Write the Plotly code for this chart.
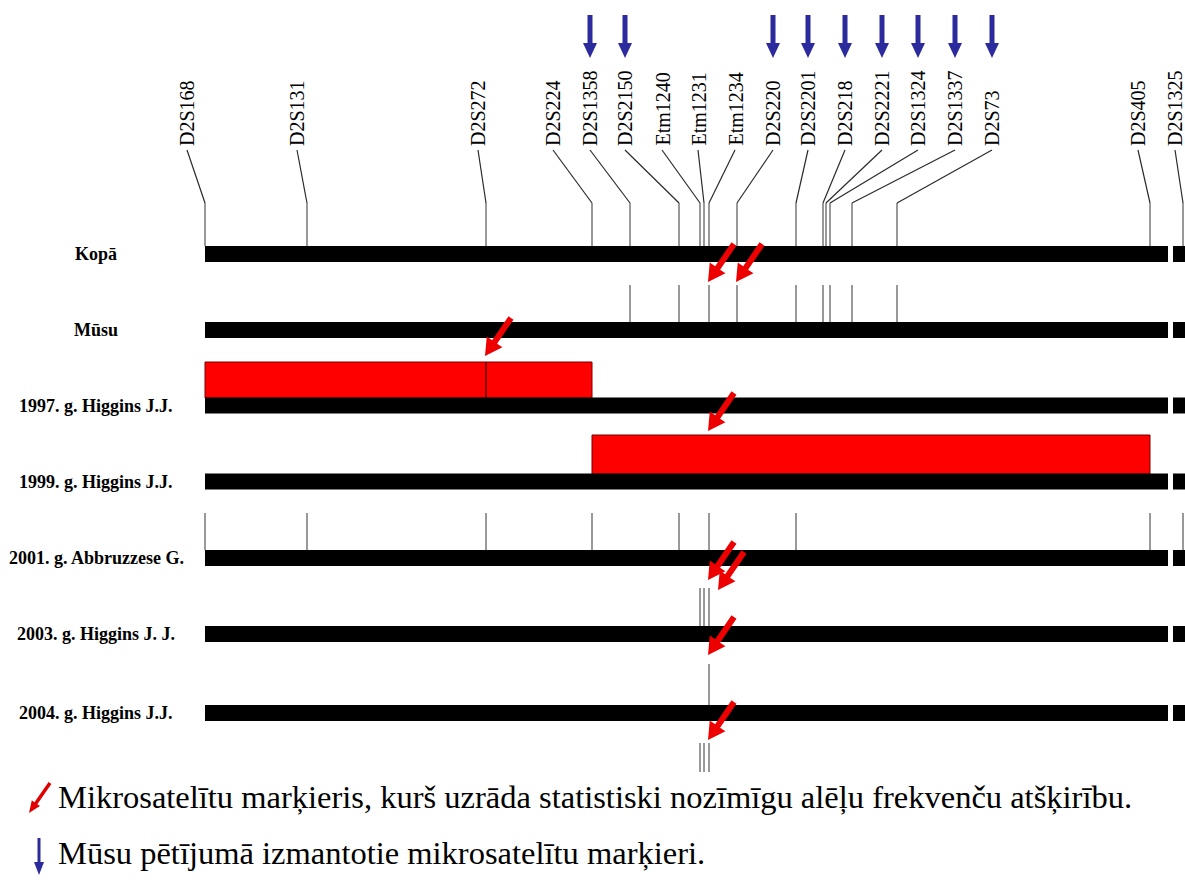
import math
import plotly.graph_objects as go

# ---------------- data ----------------
marker_names = ["D2S168", "D2S131", "D2S272", "D2S224", "D2S1358", "D2S2150",
                "Etm1240", "Etm1231", "Etm1234", "D2S220", "D2S2201", "D2S218",
                "D2S2221", "D2S1324", "D2S1337", "D2S73", "D2S405", "D2S1325"]
# position of each marker on the chromosome map
marker_pos = [205, 307, 486, 592, 630, 679, 700, 704, 709, 737, 796, 823,
              826, 830, 852, 897, 1150, 1183]
# position of each marker name label above the map
label_pos = [187, 297, 478, 553, 590, 625, 662, 698, 735, 773, 808, 845,
             882, 918, 955, 992, 1138, 1175]
# markers used in our study (blue arrows)
our_markers = ["D2S1358", "D2S2150", "D2S220", "D2S2201", "D2S218",
               "D2S2221", "D2S1324", "D2S1337", "D2S73"]

row_names = ["Kopā", "Mūsu", "1997. g. Higgins J.J.", "1999. g. Higgins J.J.",
             "2001. g. Abbruzzese G.", "2003. g. Higgins J. J.", "2004. g. Higgins J.J."]

# markers shown for each study
kopa_markers = marker_names
musu_markers = ["D2S1358", "D2S2150", "Etm1234", "D2S220", "D2S2201",
                "D2S218", "D2S1324", "D2S1337", "D2S73"]
abbr2001_markers = ["D2S168", "D2S131", "D2S272", "D2S224", "D2S2150",
                    "Etm1234", "D2S2201", "D2S405", "D2S1325"]
higgins2003_markers = ["Etm1240", "Etm1231", "Etm1234"]
higgins2004_markers = ["Etm1234"]

# candidate regions (start marker, end marker)
region_1997 = ("D2S168", "D2S224")
region_1997_split = "D2S272"
region_1999 = ("D2S224", "D2S405")

# markers with significant allele-frequency difference (row, marker)
significant = [("Kopā", "Etm1234"), ("Kopā", "D2S220"),
               ("1997. g. Higgins J.J.", "D2S272"),
               ("1999. g. Higgins J.J.", "Etm1234"),
               ("2001. g. Abbruzzese G.", "Etm1234"),
               ("2001. g. Abbruzzese G.", "Etm1234"),
               ("2003. g. Higgins J. J.", "Etm1234"),
               ("2004. g. Higgins J.J.", "Etm1234")]

legend_texts = ["Mikrosatelītu marķieris, kurš uzrāda statistiski nozīmīgu alēļu frekvenču atšķirību.",
                "Mūsu pētījumā izmantotie mikrosatelītu marķieri."]

# ---------------- layout helpers ----------------
W, H = 1185, 884
pos = dict(zip(marker_names, marker_pos))
lab = dict(zip(marker_names, label_pos))
row_y = dict(zip(row_names, [254, 330, 405.5, 481.5, 558, 634, 713]))
BAR_H = 16
bar_segments = [(205, 1168), (1173, 1200)]
SERIF = "Liberation Serif, Times New Roman, serif"

fig = go.Figure()
shapes = []
annotations = []


def arrow_path(x0, y0, x1, y1, sw, hw, hl):
    dx, dy = x1 - x0, y1 - y0
    L = math.hypot(dx, dy)
    ux, uy = dx / L, dy / L
    nx, ny = -uy, ux
    bx, by = x1 - ux * hl, y1 - uy * hl
    pts = [(x0 + nx * sw / 2, y0 + ny * sw / 2), (bx + nx * sw / 2, by + ny * sw / 2),
           (bx + nx * hw / 2, by + ny * hw / 2), (x1, y1),
           (bx - nx * hw / 2, by - ny * hw / 2), (bx - nx * sw / 2, by - ny * sw / 2),
           (x0 - nx * sw / 2, y0 - ny * sw / 2)]
    return "M " + " L ".join(f"{x:.2f},{y:.2f}" for x, y in pts) + " Z"


def add_arrow(x0, y0, x1, y1, sw, hw, hl, color):
    shapes.append(dict(type="path", xref="x", yref="y",
                       path=arrow_path(x0, y0, x1, y1, sw, hw, hl),
                       fillcolor=color, line=dict(width=0), layer="above"))


# red candidate regions
r0, r1 = pos[region_1997[0]], pos[region_1997[1]]
shapes.append(dict(type="rect", xref="x", yref="y", x0=r0, x1=r1, y0=362, y1=398,
                   fillcolor="#ff0000", line=dict(color="#7a0000", width=1), layer="below"))
shapes.append(dict(type="line", xref="x", yref="y", x0=pos[region_1997_split],
                   x1=pos[region_1997_split], y0=362, y1=398,
                   line=dict(color="#5a0000", width=1.5)))
r0, r1 = pos[region_1999[0]], pos[region_1999[1]]
shapes.append(dict(type="rect", xref="x", yref="y", x0=r0, x1=r1, y0=435, y1=474,
                   fillcolor="#ff0000", line=dict(color="#7a0000", width=1), layer="below"))

# chromosome bars
for name in row_names:
    yc = row_y[name]
    for a, b in bar_segments:
        shapes.append(dict(type="rect", xref="x", yref="y", x0=a, x1=b,
                           y0=yc - BAR_H / 2, y1=yc + BAR_H / 2,
                           fillcolor="#000000", line=dict(width=0)))

# ticks
tick_sets = [(kopa_markers, 203, 246), (musu_markers, 285, 322),
             (abbr2001_markers, 513, 550), (higgins2003_markers, 588, 626),
             (higgins2004_markers, 664, 705), (higgins2003_markers, 743, 772)]
tx, ty = [], []
for mk, ya, yb in tick_sets:
    for m in mk:
        tx += [pos[m], pos[m], None]
        ty += [ya, yb, None]
fig.add_trace(go.Scatter(x=tx, y=ty, mode="lines", line=dict(color="#6e6e6e", width=1.4),
                         hoverinfo="skip", showlegend=False))

# leader lines from labels to marker positions
lx, ly = [], []
for m in marker_names:
    lx += [lab[m], pos[m], None]
    ly += [150, 203, None]
fig.add_trace(go.Scatter(x=lx, y=ly, mode="lines", line=dict(color="#2a2a2a", width=1.2),
                         hoverinfo="skip", showlegend=False))

# marker labels (rotated)
for m in marker_names:
    annotations.append(dict(x=lab[m], y=148, xref="x", yref="y", text=m, showarrow=False,
                            textangle=-90, xanchor="center", yanchor="bottom",
                            font=dict(family=SERIF, size=20, color="#000000")))

# blue arrows for our markers
for m in our_markers:
    add_arrow(lab[m], 15, lab[m], 58, 5, 14, 15, "#2b2b9e")

# red arrows for significant markers
seen = {}
tip_offset = {"Kopā": 28, "1997. g. Higgins J.J.": -49.5, "1999. g. Higgins J.J.": -50.5,
              "2001. g. Abbruzzese G.": 22, "2003. g. Higgins J. J.": 21,
              "2004. g. Higgins J.J.": 27}
for row, m in significant:
    k = seen.get((row, m), 0)
    seen[(row, m)] = k + 1
    tipx = pos[m] - 1 + 10 * k
    tipy = row_y[row] + tip_offset[row] + 10 * k
    add_arrow(tipx + 26, tipy - 38, tipx, tipy, 6, 19, 17, "#ee0000")

# row labels
for name in row_names:
    annotations.append(dict(x=96, y=row_y[name], xref="x", yref="y",
                            text="<b>" + name + "</b>",
                            showarrow=False, xanchor="center", yanchor="middle",
                            font=dict(family=SERIF, size=18, color="#000000")))

# legend
add_arrow(50, 783, 29, 813, 3.5, 10, 12, "#e00000")
add_arrow(39, 838, 39, 875, 3, 10, 13, "#2b2b9e")
for t, yc in zip(legend_texts, [797, 853]):
    annotations.append(dict(x=56, y=yc, xref="x", yref="y", text=t, showarrow=False,
                            xanchor="left", yanchor="middle",
                            font=dict(family=SERIF, size=32.5, color="#000000")))

fig.update_layout(
    width=W, height=H, autosize=False,
    margin=dict(l=0, r=0, t=0, b=0),
    paper_bgcolor="#ffffff", plot_bgcolor="#ffffff",
    xaxis=dict(range=[0, W], visible=False, fixedrange=True),
    yaxis=dict(range=[H, 0], visible=False, fixedrange=True),
    shapes=shapes, annotations=annotations, showlegend=False,
)

fig.write_html("out.html", config={"displayModeBar": False},
               post_script="document.body.style.margin='0';document.body.style.overflow='hidden';")
